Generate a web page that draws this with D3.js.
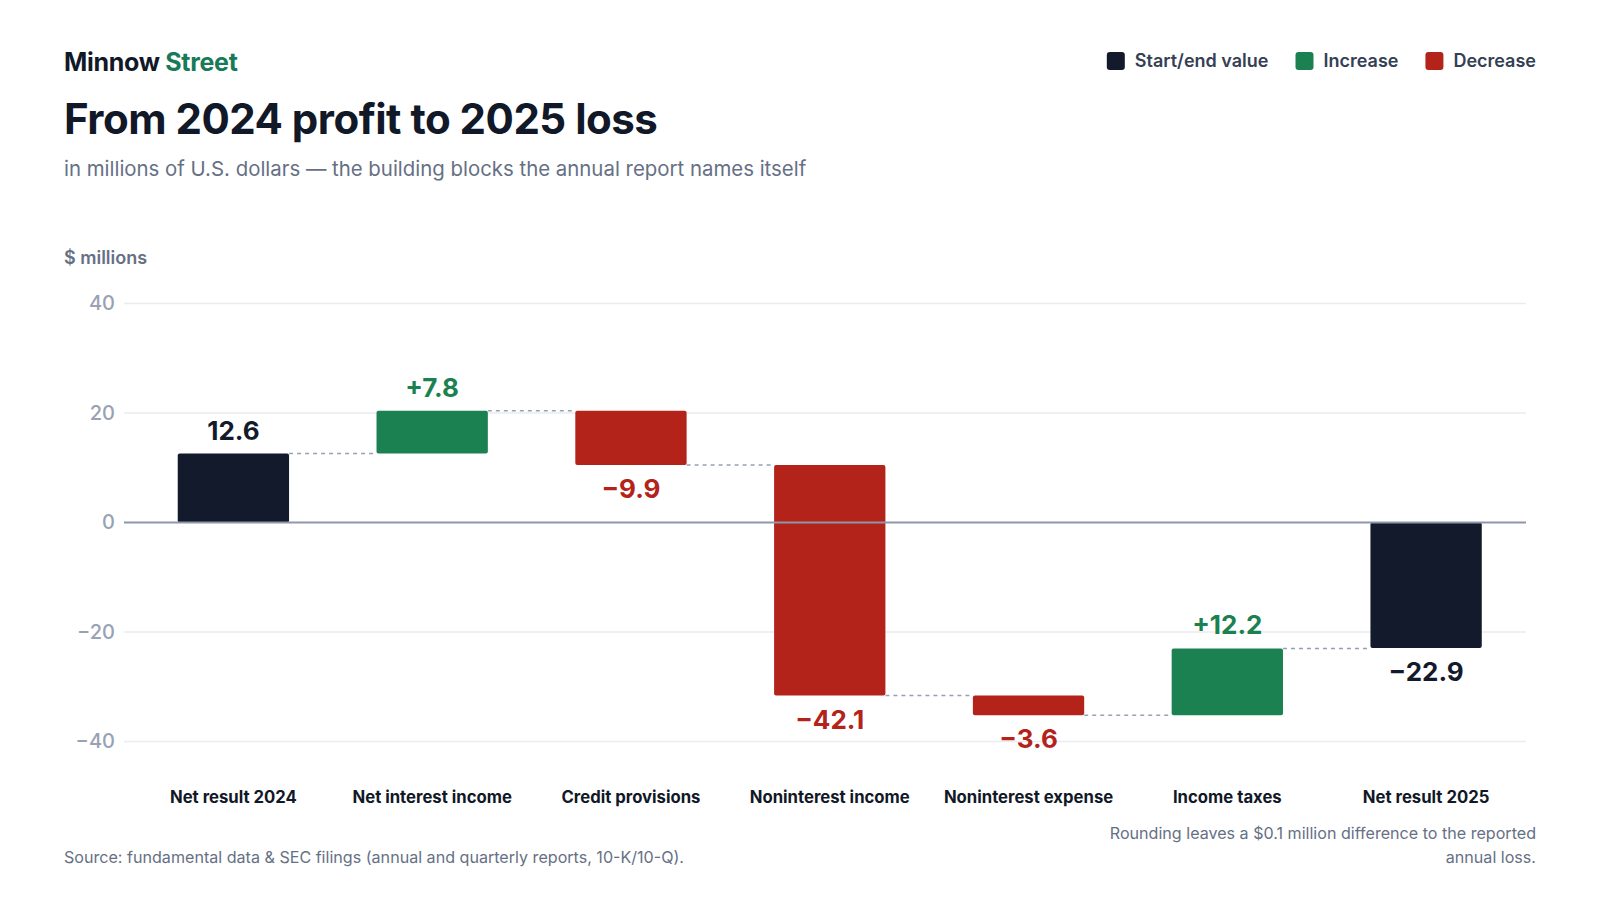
<!DOCTYPE html>
<html>
<head>
<meta charset="utf-8">
<script src="https://cdn.jsdelivr.net/npm/d3@7"></script>
<style>
  html, body { margin: 0; padding: 0; background: #fff; }
  svg { display: block; font-family: Inter, "Noto Sans", sans-serif; }
</style>
</head>
<body>
<div id="chart"></div>
<script>
// Dados do gráfico
const categorias = ["Net result 2024", "Net interest income", "Credit provisions",
  "Noninterest income", "Noninterest expense", "Income taxes", "Net result 2025"];
const valores = [12.6, 7.8, -9.9, -42.1, -3.6, 12.2, -22.9];
const tipos = ["total", "increase", "decrease", "decrease", "decrease", "increase", "total"];
const ticksY = [-40, -20, 0, 20, 40];
const legendaItens = [
  { tipo: "total", texto: "Start/end value" },
  { tipo: "increase", texto: "Increase" },
  { tipo: "decrease", texto: "Decrease" }
];

const cores = {
  total: "#121a2b",
  increase: "#1c8150",
  decrease: "#b3231a"
};

const W = 1600, H = 900;
const svg = d3.select("#chart").append("svg")
  .attr("width", W).attr("height", H);

// Cabeçalho
const marca = svg.append("text")
  .attr("x", 64).attr("y", 71)
  .attr("font-size", 25).attr("font-weight", 700)
  .attr("letter-spacing", "-0.3");
marca.append("tspan").attr("fill", "#111827").text("Minnow ");
marca.append("tspan").attr("fill", "#187a58").text("Street");

svg.append("text")
  .attr("x", 64).attr("y", 134)
  .attr("font-size", 42).attr("font-weight", 700)
  .attr("letter-spacing", "-0.5")
  .attr("fill", "#111827")
  .text("From 2024 profit to 2025 loss");

svg.append("text")
  .attr("x", 64).attr("y", 176)
  .attr("font-size", 20.4).attr("fill", "#667085")
  .text("in millions of U.S. dollars \u2014 the building blocks the annual report names itself");

// Legenda (alinhada à direita)
const legenda = svg.append("g");
let xLeg = 1536;
legendaItens.slice().reverse().forEach(item => {
  const t = legenda.append("text")
    .attr("y", 67)
    .attr("font-size", 18).attr("font-weight", 600)
    .attr("fill", "#344054")
    .attr("text-anchor", "end")
    .attr("x", xLeg)
    .text(item.texto);
  const w = t.node().getComputedTextLength();
  legenda.append("rect")
    .attr("x", xLeg - w - 10 - 18).attr("y", 52)
    .attr("width", 18).attr("height", 18)
    .attr("rx", 3)
    .attr("fill", cores[item.tipo]);
  xLeg = xLeg - w - 10 - 18 - 27;
});

svg.append("text")
  .attr("x", 64).attr("y", 264)
  .attr("font-size", 18).attr("font-weight", 600)
  .attr("fill", "#667085")
  .text("$ millions");

// Escalas
const x = d3.scaleBand().domain(categorias).range([134, 1525.5])
  .paddingInner(0.44).paddingOuter(0.22);
const y = d3.scaleLinear().domain([-40, 40]).range([741.5, 303.5]);

// Grade
svg.append("g").selectAll("line")
  .data(ticksY.filter(d => d !== 0))
  .join("line")
  .attr("x1", 124).attr("x2", 1526)
  .attr("y1", d => y(d)).attr("y2", d => y(d))
  .attr("stroke", "#e9ecf1").attr("stroke-width", 1.5);

// Eixo y
const eixoY = svg.append("g")
  .attr("transform", "translate(124,0)")
  .call(d3.axisLeft(y).tickValues(ticksY).tickSize(0).tickPadding(9));
eixoY.select(".domain").remove();
eixoY.selectAll("text")
  .attr("font-family", "Inter, sans-serif")
  .attr("font-size", 20).attr("font-weight", 500)
  .attr("fill", "#98a2b3");

// Posições acumuladas
let acumulado = 0;
const barras = valores.map((v, i) => {
  let ini, fim;
  if (tipos[i] === "total") {
    ini = 0; fim = v; acumulado = v;
  } else {
    ini = acumulado; fim = acumulado + v; acumulado = fim;
  }
  return { cat: categorias[i], valor: v, tipo: tipos[i], ini, fim, nivel: acumulado };
});

// Linhas de ligação
svg.append("g").selectAll("line")
  .data(barras.slice(0, -1))
  .join("line")
  .attr("x1", d => x(d.cat) + x.bandwidth())
  .attr("x2", (d, i) => x(barras[i + 1].cat))
  .attr("y1", d => y(d.nivel)).attr("y2", d => y(d.nivel))
  .attr("stroke", "#98a1b3").attr("stroke-width", 1.6)
  .attr("stroke-dasharray", "4 4");

// Barras
svg.append("g").selectAll("rect")
  .data(barras)
  .join("rect")
  .attr("x", d => x(d.cat))
  .attr("width", x.bandwidth())
  .attr("y", d => y(Math.max(d.ini, d.fim)))
  .attr("height", d => Math.abs(y(d.ini) - y(d.fim)))
  .attr("rx", 2)
  .attr("fill", d => cores[d.tipo]);

// Linha do zero
svg.append("line")
  .attr("x1", 124).attr("x2", 1526)
  .attr("y1", y(0)).attr("y2", y(0))
  .attr("stroke", "#8e97a9").attr("stroke-width", 2);

// Rótulos de valor
const fmt = d3.format(".1f");
svg.append("g").selectAll("text")
  .data(barras)
  .join("text")
  .attr("x", d => x(d.cat) + x.bandwidth() / 2)
  .attr("y", d => d.valor >= 0
    ? y(Math.max(d.ini, d.fim)) - 14
    : y(Math.min(d.ini, d.fim)) + 33)
  .attr("text-anchor", "middle")
  .attr("font-size", 26).attr("font-weight", 700)
  .attr("fill", d => cores[d.tipo])
  .text(d => (d.tipo !== "total" && d.valor > 0 ? "+" : "") + fmt(d.valor));

// Eixo x (categorias)
svg.append("g").selectAll("text")
  .data(categorias)
  .join("text")
  .attr("x", d => x(d) + x.bandwidth() / 2)
  .attr("y", 803)
  .attr("text-anchor", "middle")
  .attr("font-size", 16.7).attr("font-weight", 700)
  .attr("fill", "#111827")
  .text(d => d);

// Rodapé
svg.append("text")
  .attr("x", 64).attr("y", 863)
  .attr("font-size", 16.1).attr("fill", "#667085")
  .text("Source: fundamental data & SEC filings (annual and quarterly reports, 10-K/10-Q).");

const nota = svg.append("text")
  .attr("text-anchor", "end")
  .attr("font-size", 16.1).attr("fill", "#667085");
nota.append("tspan").attr("x", 1536).attr("y", 839)
  .text("Rounding leaves a $0.1 million difference to the reported");
nota.append("tspan").attr("x", 1536).attr("y", 863)
  .text("annual loss.");
</script>
</body>
</html>
